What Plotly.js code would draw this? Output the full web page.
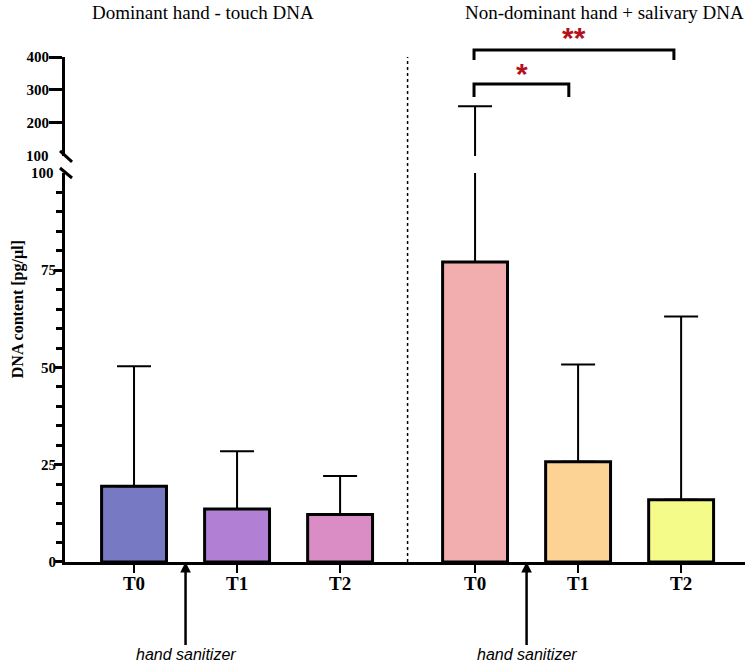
<!DOCTYPE html>
<html>
<head>
<meta charset="utf-8">
<script src="https://cdn.plot.ly/plotly-3.0.1.min.js"></script>
<style>
  html, body { margin: 0; padding: 0; background: #fff; }
  #chart { width: 749px; height: 666px; }
</style>
</head>
<body>
<div id="chart"></div>
<script>
// values (pg/ul), mean and top of the error bar
var timepoints = ['T0', 'T1', 'T2'];
var touchMean = [19.5, 13.6, 12.2];
var touchErrTop = [50.3, 28.5, 22.1];
var salivaMean = [77.1, 25.8, 16.0];
var salivaErrTop = [251, 50.8, 63.1];
var touchColors = ['#7779c3', '#b17fd3', '#da8cc4'];
var salivaColors = ['#f2aeae', '#fdd295', '#f5fb88'];
var groupTitles = ['Dominant hand - touch DNA', 'Non-dominant hand + salivary DNA'];
var yLowTicks = [0, 25, 50, 75];
var yHighTicks = [200, 300, 400];
var breakAt = 100;

var serif = 'Liberation Serif, Times New Roman, serif';
var sans = 'Liberation Sans, Arial, sans-serif';
var groupShift = 3.31;   // gap between the two groups, in category units
var lowDomain = [0, 0.7703];
var highDomain = [0.804, 1];

var xLeft = timepoints.map(function(t, i) { return i; });
var xRight = timepoints.map(function(t, i) { return i + groupShift; });

function errBars(mean, errTop) {
  return {
    type: 'data',
    symmetric: false,
    array: errTop.map(function(e, i) { return e - mean[i]; }),
    arrayminus: mean.map(function() { return 0; }),
    color: '#000',
    thickness: 2,
    width: 17
  };
}

function barTrace(x, mean, errTop, colors) {
  return {
    type: 'bar',
    x: x,
    y: mean,
    width: 0.63,
    marker: { color: colors, line: { color: '#000', width: 3 } },
    error_y: errBars(mean, errTop),
    xaxis: 'x',
    yaxis: 'y',
    showlegend: false,
    hoverinfo: 'skip'
  };
}

// the part of an error bar that goes above the axis break:
// same bars on the upper axis, the point itself sits below its range and is clipped
function upperErr(x, mean, errTop) {
  var xs = [], ms = [], es = [];
  for (var i = 0; i < errTop.length; i++) {
    if (errTop[i] > breakAt) {
      xs.push(x[i]); ms.push(mean[i]); es.push(errTop[i]);
    }
  }
  return {
    type: 'scatter',
    mode: 'markers',
    x: xs,
    y: ms,
    marker: { size: 1, color: 'rgba(0,0,0,0)' },
    error_y: errBars(ms, es),
    xaxis: 'x',
    yaxis: 'y2',
    showlegend: false,
    hoverinfo: 'skip'
  };
}

var data = [
  barTrace(xLeft, touchMean, touchErrTop, touchColors),
  barTrace(xRight, salivaMean, salivaErrTop, salivaColors),
  upperErr(xLeft, touchMean, touchErrTop),
  upperErr(xRight, salivaMean, salivaErrTop)
];

var minorVals = [];
for (var v = 5; v < breakAt; v += 5) {
  if (v % 25 !== 0) minorVals.push(v);
}

var tickFont = { family: serif, size: 15, color: '#000', weight: 'bold' };
var starFont = { family: sans, size: 30, color: '#b3121d', weight: 'bold' };

var shapes = [
  // dotted divider between the groups
  { type: 'line', xref: 'x', yref: 'paper', x0: (2 + groupShift) / 2, x1: (2 + groupShift) / 2,
    y0: 0, y1: 1, line: { color: '#000', width: 1.5, dash: 'dot' } },
  // axis break marks
  { type: 'line', xref: 'paper', yref: 'paper', xsizemode: 'pixel', ysizemode: 'pixel',
    xanchor: 0, yanchor: highDomain[0], x0: -5, x1: 7, y0: 5, y1: -6,
    line: { color: '#000', width: 3 } },
  { type: 'line', xref: 'paper', yref: 'paper', xsizemode: 'pixel', ysizemode: 'pixel',
    xanchor: 0, yanchor: lowDomain[1], x0: -5, x1: 7, y0: 5, y1: -5,
    line: { color: '#000', width: 3 } },
  // significance brackets
  { type: 'path', xref: 'x', yref: 'paper',
    path: 'M 3.30,0.921 L 3.30,0.9465 L 4.22,0.9465 L 4.22,0.921',
    line: { color: '#000', width: 3 } },
  { type: 'path', xref: 'x', yref: 'paper',
    path: 'M 3.30,0.994 L 3.30,1.0139 L 5.24,1.0139 L 5.24,0.994',
    line: { color: '#000', width: 3 } }
];

var annotations = [
  { text: groupTitles[0], xref: 'x', yref: 'paper', x: 0.67, y: 1.1125, yanchor: 'top',
    showarrow: false, font: { family: serif, size: 19, color: '#000' } },
  { text: groupTitles[1], xref: 'x', yref: 'paper', x: 4.57, y: 1.1125, yanchor: 'top',
    showarrow: false, font: { family: serif, size: 19, color: '#000' } },
  { text: 'DNA content [pg/µl]', xref: 'paper', yref: 'paper', x: -0.085, y: 0.501,
    textangle: -90, showarrow: false,
    font: { family: serif, size: 16, color: '#000', weight: 'bold' } },
  { text: String(breakAt), xref: 'paper', yref: 'y2', x: 0, y: breakAt, xanchor: 'right',
    xshift: -14, showarrow: false, font: tickFont },
  { text: String(breakAt), xref: 'paper', yref: 'y', x: 0, y: breakAt, xanchor: 'right',
    xshift: -9, showarrow: false, font: tickFont },
  { text: '**', xref: 'x', yref: 'paper', x: 4.27, y: 1.075, showarrow: false, font: starFont },
  { text: '*', xref: 'x', yref: 'paper', x: 3.77, y: 1.004, showarrow: false, font: starFont }
];

[0.5, 0.5 + groupShift].forEach(function(xa) {
  annotations.push({
    text: '<i>hand sanitizer</i>', xref: 'x', yref: 'y', x: xa, y: 0,
    ax: 0, ay: 93, showarrow: true, arrowhead: 2, arrowsize: 0.85, arrowwidth: 2.5,
    arrowcolor: '#000', font: { family: sans, size: 16, color: '#000' }
  });
});

var layout = {
  width: 749,
  height: 666,
  margin: { l: 65, r: 4, t: 57, b: 104 },
  paper_bgcolor: '#fff',
  plot_bgcolor: '#fff',
  barmode: 'overlay',
  xaxis: {
    range: [-0.67, 5.93],
    tickmode: 'array',
    tickvals: xLeft.concat(xRight),
    ticktext: timepoints.concat(timepoints),
    ticks: 'outside', ticklen: 8, tickwidth: 2.5, tickcolor: '#000',
    ticklabelstandoff: -6,
    showline: true, linecolor: '#000', linewidth: 3,
    showgrid: false, zeroline: false,
    tickfont: { family: serif, size: 19, color: '#000', weight: 'bold' },
    anchor: 'y'
  },
  yaxis: {
    domain: lowDomain,
    range: [0, breakAt],
    tickmode: 'array',
    tickvals: yLowTicks,
    ticks: 'outside', ticklen: 8, tickwidth: 3, tickcolor: '#000',
    ticklabelstandoff: -5,
    minor: { tickmode: 'array', tickvals: minorVals, ticks: 'outside', ticklen: 6,
             tickwidth: 3, tickcolor: '#000', showgrid: false },
    showline: true, linecolor: '#000', linewidth: 3,
    showgrid: false, zeroline: false,
    tickfont: tickFont,
    anchor: 'x'
  },
  yaxis2: {
    domain: highDomain,
    range: [breakAt, 400],
    tickmode: 'array',
    tickvals: yHighTicks,
    ticks: 'outside', ticklen: 13, tickwidth: 3, tickcolor: '#000',
    ticklabelstandoff: -3,
    showline: true, linecolor: '#000', linewidth: 3,
    showgrid: false, zeroline: false,
    tickfont: tickFont,
    anchor: 'x'
  },
  shapes: shapes,
  annotations: annotations
};

Plotly.newPlot('chart', data, layout, { displayModeBar: false, staticPlot: true });
</script>
</body>
</html>
